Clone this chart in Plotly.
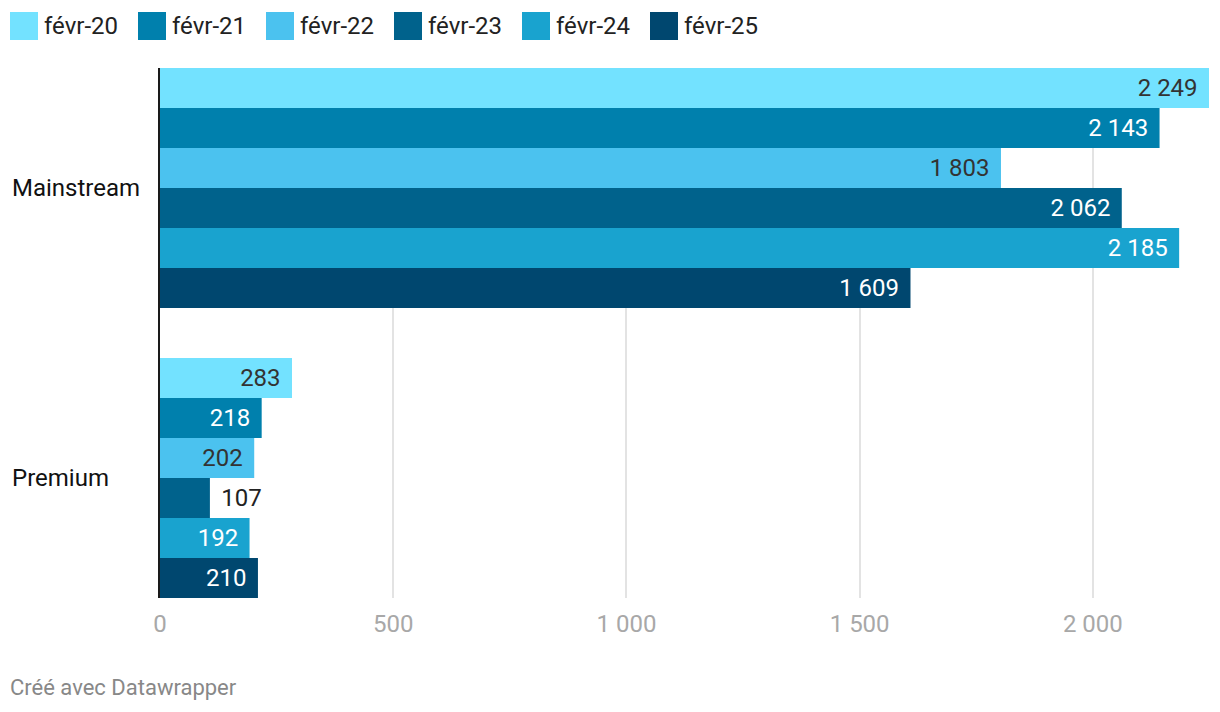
import plotly.graph_objects as go

categories = ["Mainstream", "Premium"]
series_names = ["févr-20", "févr-21", "févr-22", "févr-23", "févr-24", "févr-25"]
mainstream = [2249, 2143, 1803, 2062, 2185, 1609]
premium = [283, 218, 202, 107, 192, 210]
colors = ["#73e2ff", "#0080ad", "#4bc2ef", "#00628c", "#19a3cf", "#00476f"]
label_colors = ["#333333", "#ffffff", "#333333", "#ffffff", "#ffffff", "#ffffff"]
tick_vals = [0, 500, 1000, 1500, 2000]
tick_text = ["0", "500", "1 000", "1 500", "2 000"]
footer = "Créé avec Datawrapper"

FONT = "Roboto"
FS = 24
W, H = 1220, 712
OFF = 8  # page body margin
L, T = 160 - OFF, 68 - OFF
R = W - (1209 - OFF)
B = H - (598 - OFF)
PW, PH = W - L - R, H - T - B
GAP = "\u00a0\u200a"


def fmt(v):
    return f"{v:,}".replace(",", " ")


def px_x(px):  # page px -> paper
    return (px - OFF - L) / PW


def px_y(py):
    return (H - B - (py - OFF)) / PH


fig = go.Figure()
for i, name in enumerate(series_names):
    vals = [mainstream[i], premium[i]]
    pos = ["outside" if v < 150 else "inside" for v in vals]
    txt = [(GAP + fmt(v)) if p == "outside" else (fmt(v) + GAP)
           for v, p in zip(vals, pos)]
    fig.add_trace(go.Bar(
        name=name, y=categories, x=vals, orientation="h",
        marker=dict(color=colors[i], line=dict(width=0)),
        text=txt, textposition=pos, insidetextanchor="end",
        insidetextfont=dict(family=FONT, size=FS, color=label_colors[i]),
        outsidetextfont=dict(family=FONT, size=FS, color="#222222"),
        constraintext="none", cliponaxis=False, showlegend=False,
        hoverinfo="skip",
    ))

annotations = []
shapes = []
for i, name in enumerate(series_names):
    x0 = 10 + 128 * i
    shapes.append(dict(type="rect", xref="paper", yref="paper",
                       x0=px_x(x0), x1=px_x(x0 + 28), y0=px_y(40), y1=px_y(12),
                       fillcolor=colors[i], line=dict(width=0)))
    annotations.append(dict(xref="paper", yref="paper", x=px_x(x0 + 32), y=px_y(26),
                            xanchor="left", yanchor="middle", text=name, showarrow=False,
                            font=dict(family=FONT, size=FS, color="#222222")))
for c in categories:
    annotations.append(dict(xref="paper", yref="y", x=px_x(10), y=c,
                            xanchor="left", yanchor="middle", text=c, showarrow=False,
                            font=dict(family=FONT, size=FS, color="#111111")))
annotations.append(dict(xref="paper", yref="paper", x=px_x(8), y=px_y(687),
                        xanchor="left", yanchor="middle", text=footer, showarrow=False,
                        font=dict(family=FONT, size=22, color="#888888")))

pad = 25 / 290
fig.update_layout(
    width=W, height=H, margin=dict(l=L, r=R, t=T, b=B),
    paper_bgcolor="white", plot_bgcolor="white",
    barmode="group", bargap=50 / 290, bargroupgap=0,
    font=dict(family=FONT, size=FS, color="#222222"),
    shapes=shapes, annotations=annotations,
    xaxis=dict(range=[0, 2249], tickvals=tick_vals, ticktext=tick_text,
               showgrid=True, gridcolor="#e3e3e3", gridwidth=2,
               zeroline=False, showline=False, ticks="", ticklabelstandoff=9,
               tickfont=dict(family=FONT, size=FS, color="#a8a8a8")),
    yaxis=dict(categoryorder="array", categoryarray=categories,
               range=[1.5 - pad, -0.5 + pad], showticklabels=False,
               showgrid=False, zeroline=False, ticks="",
               showline=True, linecolor="#1a1a1a", linewidth=2, layer="above traces"),
)

fig.write_html("out.html")
